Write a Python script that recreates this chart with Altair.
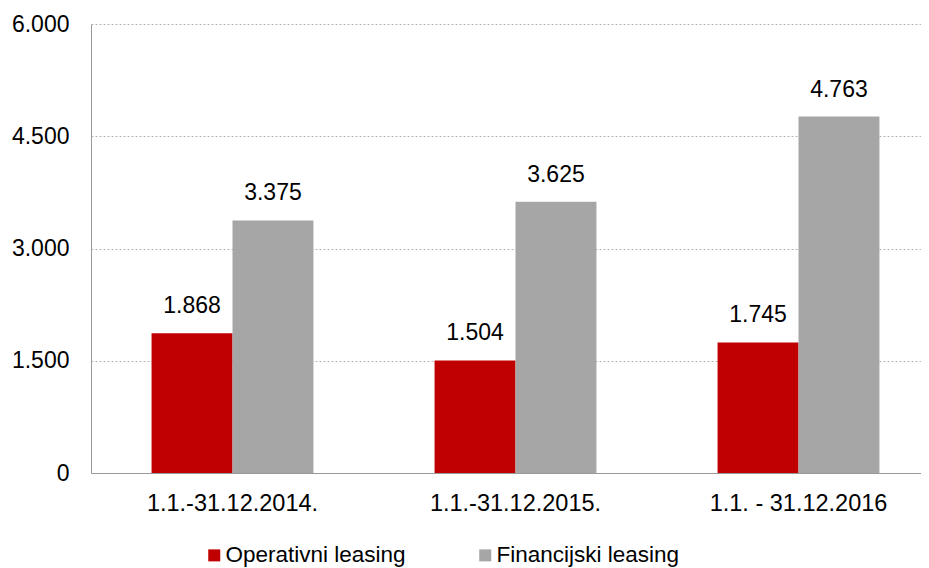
import altair as alt
import pandas as pd

periods = ["1.1.-31.12.2014.", "1.1.-31.12.2015.", "1.1. - 31.12.2016"]
series = ["Operativni leasing", "Financijski leasing"]
operativni = [1868, 1504, 1745]
financijski = [3375, 3625, 4763]
colors = ["#C00000", "#A6A6A6"]
y_ticks = [0, 1500, 3000, 4500, 6000]

rows = []
for i, p in enumerate(periods):
    rows.append({"period": p, "series": series[0], "value": operativni[i]})
    rows.append({"period": p, "series": series[1], "value": financijski[i]})
df = pd.DataFrame(rows)

FONT = "Liberation Sans"

base = alt.Chart(df).transform_calculate(
    label="replace(format(datum.value, ','), ',', '.')"
)

x = alt.X("period:N", sort=periods, title=None,
          scale=alt.Scale(paddingInner=0.428, paddingOuter=0.214, range=[0, 849]),
          axis=alt.Axis(labelAngle=0, labelFontSize=23.5, labelFont=FONT,
                        labelColor="#000000", ticks=False, domainColor="#999999",
                        labelPadding=18))
xo = alt.XOffset("series:N", sort=series, scale=alt.Scale(paddingInner=0, paddingOuter=0))
y = alt.Y("value:Q", title=None,
          scale=alt.Scale(domain=[0, 6000], nice=False),
          axis=alt.Axis(values=y_ticks, labelFontSize=23, labelFont=FONT,
                        labelColor="#000000", ticks=False, domainColor="#999999",
                        labelPadding=22, gridColor="#B5B5B5", gridDash=[2, 2],
                        labelExpr="replace(format(datum.value, ','), ',', '.')"))

bars = base.mark_bar().encode(
    x=x, xOffset=xo, y=y,
    color=alt.Color("series:N", sort=series,
                    scale=alt.Scale(domain=series, range=colors),
                    legend=alt.Legend(title=None, orient="none", direction="horizontal",
                                      legendX=112, legendY=520, symbolType="square",
                                      symbolSize=144, symbolStrokeWidth=0,
                                      labelFontSize=22.5, labelFont=FONT,
                                      labelColor="#000000", labelOffset=0,
                                      columnPadding=68, padding=0, labelLimit=400)),
)

text = base.mark_text(fontSize=23, font=FONT, color="#000000", baseline="alphabetic",
                      dy=-20).encode(
    x=alt.X("period:N", sort=periods),
    xOffset=alt.XOffset("series:N", sort=series),
    y=alt.Y("value:Q"),
    text="label:N",
)

chart = alt.layer(bars, text).properties(
    width=830, height=449,
    autosize=alt.AutoSizeParams(type="none"),
    padding={"left": 83, "top": 16, "right": 0, "bottom": 100},
).configure_view(stroke=None).configure_axisY(domain=True).configure_axisX(grid=False)

chart.save("out.html", embed_options={"renderer": "svg", "actions": False})
